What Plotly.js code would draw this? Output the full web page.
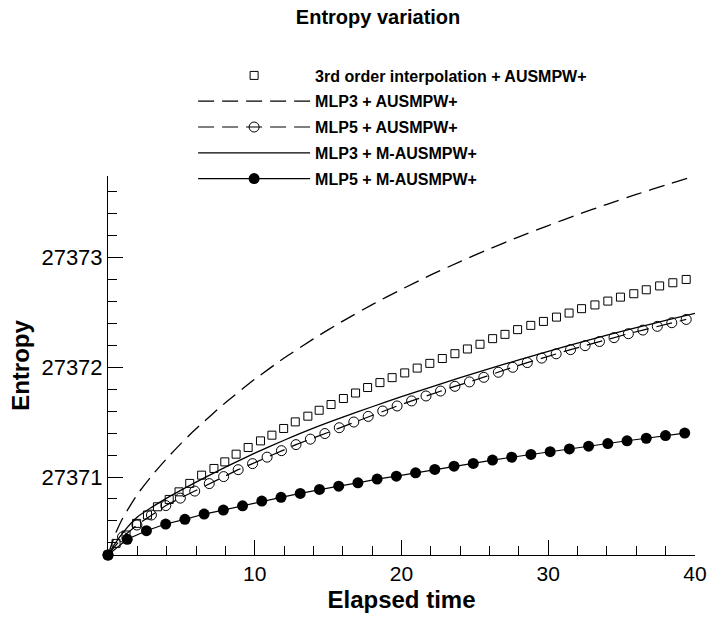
<!DOCTYPE html>
<html>
<head>
<meta charset="utf-8">
<script src="https://cdn.plot.ly/plotly-3.0.1.min.js"></script>
<style>html,body{margin:0;padding:0;background:#fff;}#chart{width:708px;height:619px;}</style>
</head>
<body>
<div id="chart"></div>
<script>
// ---- Data ----
const seriesNames = [
  "3rd order interpolation + AUSMPW+",
  "MLP3 + AUSMPW+",
  "MLP5 + AUSMPW+",
  "MLP3 + M-AUSMPW+",
  "MLP5 + M-AUSMPW+"
];

// 3rd order interpolation + AUSMPW+ (open squares)
const timeThird = [0, 0.55, 1.23, 1.95, 2.69, 3.37, 4.17, 4.84, 5.57, 6.38, 7.22, 7.96, 8.73, 9.55, 10.39,
  11.17, 11.97, 12.76, 13.62, 14.39, 15.20, 16.04, 16.87, 17.69, 18.53, 19.36, 20.22, 21.07, 21.93, 22.78,
  23.64, 24.49, 25.35, 26.21, 27.05, 27.91, 28.81, 29.67, 30.56, 31.42, 32.27, 33.18, 34.06, 34.92, 35.83,
  36.68, 37.59, 38.49, 39.40];
const entropyThird = [27370.290, 27370.396, 27370.472, 27370.578, 27370.654, 27370.729, 27370.796, 27370.865,
  27370.942, 27371.017, 27371.078, 27371.138, 27371.208, 27371.269, 27371.329, 27371.381, 27371.442,
  27371.502, 27371.554, 27371.608, 27371.660, 27371.715, 27371.765, 27371.815, 27371.860, 27371.905,
  27371.948, 27371.992, 27372.035, 27372.079, 27372.123, 27372.166, 27372.209, 27372.260, 27372.299,
  27372.342, 27372.381, 27372.417, 27372.456, 27372.493, 27372.533, 27372.567, 27372.602, 27372.638,
  27372.669, 27372.705, 27372.740, 27372.769, 27372.799];

// MLP3 + AUSMPW+ (long dashes)
const timeMLP3 = [0, 0.5, 1, 2, 3, 4, 5, 6, 8, 10, 12, 14, 16, 18, 20, 22, 24, 26, 28, 30, 32, 34, 36, 38, 40];
const entropyMLP3 = [27370.290, 27370.482, 27370.625, 27370.842, 27371.015, 27371.168, 27371.309, 27371.439,
  27371.677, 27371.890, 27372.083, 27372.258, 27372.420, 27372.570, 27372.709, 27372.840, 27372.962,
  27373.077, 27373.187, 27373.290, 27373.389, 27373.483, 27373.573, 27373.659, 27373.741];

// MLP5 + AUSMPW+ (dashed line with open circles)
const timeMLP5 = [0, 0.99, 1.97, 2.96, 3.94, 4.93, 5.91, 6.90, 7.88, 8.87, 9.85, 10.84, 11.82, 12.81, 13.79,
  14.78, 15.76, 16.75, 17.73, 18.72, 19.70, 20.69, 21.67, 22.66, 23.64, 24.63, 25.61, 26.60, 27.58, 28.57,
  29.55, 30.54, 31.52, 32.51, 33.49, 34.48, 35.46, 36.45, 37.43, 38.42, 39.40];
const entropyMLP5 = [27370.290, 27370.454, 27370.563, 27370.654, 27370.740, 27370.808, 27370.872, 27370.940,
  27371.004, 27371.067, 27371.122, 27371.181, 27371.240, 27371.295, 27371.345, 27371.396, 27371.449,
  27371.501, 27371.552, 27371.601, 27371.647, 27371.693, 27371.738, 27371.783, 27371.826, 27371.866,
  27371.908, 27371.954, 27371.999, 27372.042, 27372.083, 27372.122, 27372.160, 27372.196, 27372.234,
  27372.269, 27372.305, 27372.338, 27372.372, 27372.405, 27372.435];

// MLP3 + M-AUSMPW+ (solid line)
const timeMLP3M = [0, 0.5, 1, 2, 3, 4, 6, 8, 10, 12, 14, 16, 18, 20, 22, 24, 26, 28, 30, 32, 34, 36, 38, 40];
const entropyMLP3M = [27370.290, 27370.399, 27370.490, 27370.635, 27370.726, 27370.808, 27370.954, 27371.090,
  27371.217, 27371.335, 27371.445, 27371.545, 27371.640, 27371.731, 27371.819, 27371.905, 27371.987,
  27372.067, 27372.145, 27372.219, 27372.291, 27372.360, 27372.426, 27372.490];

// MLP5 + M-AUSMPW+ (solid line with filled circles)
const timeMLP5M = [0, 1.31, 2.62, 3.93, 5.24, 6.55, 7.86, 9.17, 10.48, 11.79, 13.10, 14.41, 15.72, 17.03,
  18.34, 19.65, 20.96, 22.27, 23.58, 24.89, 26.20, 27.51, 28.82, 30.13, 31.44, 32.75, 34.06, 35.37, 36.68,
  37.99, 39.30];
const entropyMLP5M = [27370.290, 27370.433, 27370.511, 27370.572, 27370.615, 27370.663, 27370.699, 27370.738,
  27370.781, 27370.815, 27370.851, 27370.887, 27370.917, 27370.947, 27370.981, 27371.008, 27371.038,
  27371.069, 27371.099, 27371.124, 27371.154, 27371.180, 27371.206, 27371.231, 27371.256, 27371.281,
  27371.305, 27371.330, 27371.353, 27371.377, 27371.400];

const xTickVals = [10, 20, 30, 40];
const xTickText = ["10", "20", "30", "40"];
const yTickVals = [27371, 27372, 27373];
const yTickText = ["27371", "27372", "27373"];

// ---- Chart ----
const FONT = "Liberation Sans, Arial, Helvetica, sans-serif";
const traces = [
  {x: timeThird, y: entropyThird, name: seriesNames[0], legendgroup: "g1", type: "scatter", mode: "markers",
   marker: {symbol: "square-open", size: 8, color: "#000", line: {width: 1, color: "#000"}}, cliponaxis: false},
  {x: timeMLP3, y: entropyMLP3, name: seriesNames[1], legendgroup: "g2", type: "scatter", mode: "lines",
   line: {color: "#000", width: 1.3, dash: "16px,8px", shape: "spline", smoothing: 0.6}, cliponaxis: false},
  {x: timeMLP5, y: entropyMLP5, name: seriesNames[2], legendgroup: "g3", type: "scatter", mode: "lines+markers",
   line: {color: "#000", width: 1.2, dash: "16px,8px"},
   marker: {symbol: "circle-open", size: 10, color: "#000", line: {width: 1, color: "#000"}}, cliponaxis: false},
  {x: timeMLP3M, y: entropyMLP3M, name: seriesNames[3], legendgroup: "g4", type: "scatter", mode: "lines",
   line: {color: "#000", width: 1.3, shape: "spline", smoothing: 0.6}, cliponaxis: false},
  {x: timeMLP5M, y: entropyMLP5M, name: seriesNames[4], legendgroup: "g5", type: "scatter", mode: "lines+markers",
   line: {color: "#000", width: 1.2},
   marker: {symbol: "circle", size: 11, color: "#000"}, cliponaxis: false}
];

const layout = {
  width: 708, height: 619,
  paper_bgcolor: "#fff", plot_bgcolor: "#fff",
  margin: {l: 108, r: 13, t: 176, b: 64},
  font: {family: FONT, color: "#000", size: 16},
  title: {text: "Entropy variation", x: 0.534, xanchor: "center", xref: "container",
          y: 0.972, yanchor: "middle", yref: "container",
          font: {family: FONT, size: 20, weight: "bold", color: "#000"}},
  showlegend: true,
  legend: {x: 0.145, xanchor: "left", y: 1.31, yanchor: "top", bgcolor: "rgba(0,0,0,0)",
           borderwidth: 0, itemwidth: 112, traceorder: "grouped", tracegroupgap: 2,
           font: {family: FONT, size: 16, weight: "bold", color: "#000"}},
  xaxis: {range: [0, 40], showgrid: false, zeroline: false, showline: true, linecolor: "#000", linewidth: 1,
          ticks: "inside", ticklen: 15, tickwidth: 1, tickcolor: "#000", ticklabeloverflow: "allow",
          tickmode: "array", tickvals: xTickVals, ticktext: xTickText,
          tickfont: {family: FONT, size: 21, color: "#000"},
          minor: {tickmode: "linear", tick0: 0, dtick: 2, ticks: "inside", ticklen: 9, tickwidth: 1, tickcolor: "#000", showgrid: false},
          title: {text: "Elapsed time", standoff: 6, font: {family: FONT, size: 24, weight: "bold", color: "#000"}}},
  yaxis: {range: [27370.29, 27373.741], showgrid: false, zeroline: false, showline: true, linecolor: "#000", linewidth: 1,
          ticks: "inside", ticklen: 15, tickwidth: 1, tickcolor: "#000",
          tickmode: "array", tickvals: yTickVals, ticktext: yTickText,
          tickfont: {family: FONT, size: 22, color: "#000"},
          minor: {tickmode: "linear", tick0: 27371, dtick: 0.2, ticks: "inside", ticklen: 9, tickwidth: 1, tickcolor: "#000", showgrid: false},
          title: {text: "Entropy", standoff: 5, font: {family: FONT, size: 24, weight: "bold", color: "#000"}}}
};

Plotly.newPlot("chart", traces, layout, {displayModeBar: false, staticPlot: true});
</script>
</body>
</html>
